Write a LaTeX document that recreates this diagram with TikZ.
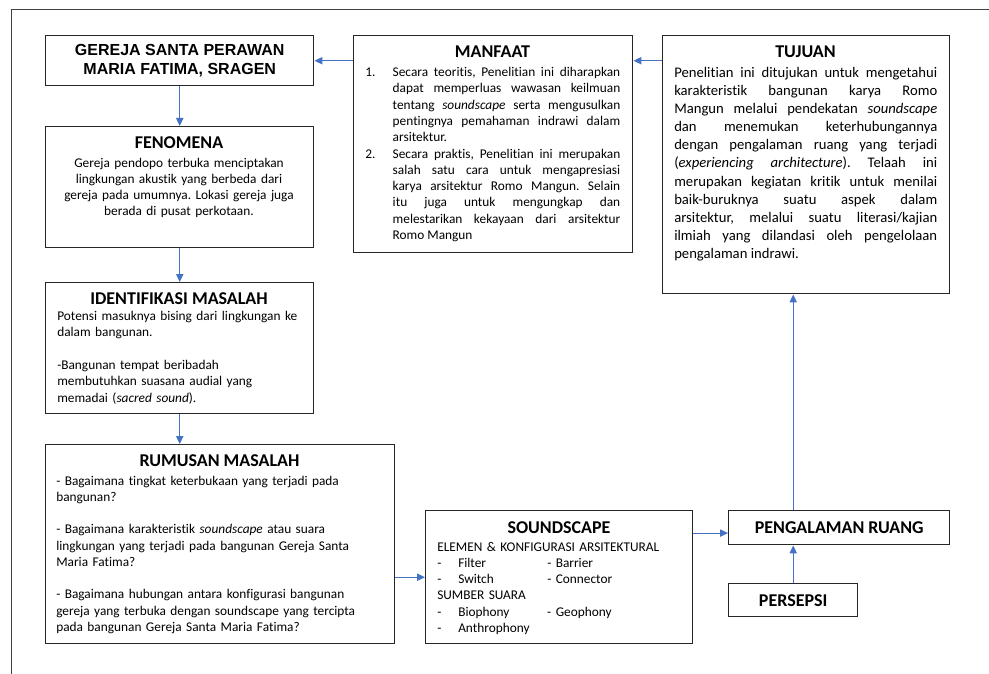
\documentclass[tikz,border=0pt]{standalone}
\usepackage{fontspec}
\setmainfont{Carlito}[Ligatures={TeX,NoCommon}]
\newfontfamily\arialfont{Liberation Sans}
\usetikzlibrary{arrows.meta}
\frenchspacing

\definecolor{arrowblue}{HTML}{4472C4}
\newcommand\headfont{\bfseries\fontsize{13.5}{15}\selectfont}
\newcommand\bodyfont{\fontsize{10}{12.2}\selectfont}

\tikzset{
	box/.style={draw=black!85, line width=1.1pt, anchor=north west, inner sep=0pt},
	head/.style={anchor=base, inner sep=0pt, font=\headfont},
	body/.style={inner sep=0pt, font=\bodyfont},
	flow/.style={draw=arrowblue, line width=0.75pt, -{Triangle[length=6pt,width=5.5pt]}},
	frame/.style={draw=black!75, line width=0.75pt}
}

\begin{document}
\begin{tikzpicture}[x=0.75pt,y=-0.75pt]
		%%%%% START %%%%%
		\useasboundingbox (0,0) rectangle (989,674);
		\draw[frame] (11,674) -- (11,10) -- (989,10);
		
		% left column
		\node[box, minimum width=201pt, minimum height=37.5pt, align=center,
			font=\arialfont\bfseries\fontsize{12}{13.75}\selectfont] (gereja) at (45,35)
			{GEREJA SANTA PERAWAN\\MARIA FATIMA, SRAGEN};
		
		\node[box, minimum width=201pt, minimum height=90.75pt] (fenomena) at (45,126) {};
		\node[head] (fenomenahead) at (179,148) {FENOMENA};
		\node[body, anchor=base, text width=200pt, align=center] (fenomenatext) at (179,167)
			{Gereja pendopo terbuka menciptakan\\lingkungan akustik yang berbeda dari\\gereja pada umumnya. Lokasi gereja juga\\berada di pusat perkotaan.};
		
		\node[box, minimum width=201pt, minimum height=98.25pt] (identifikasi) at (45,282) {};
		\node[head] (identifikasihead) at (179,304) {IDENTIFIKASI MASALAH};
		\node[body, anchor=base west, text width=190pt, align=left] (identifikasitext) at (57,320.7)
			{Potensi masuknya bising dari lingkungan ke\\dalam bangunan.\\[12.2pt]
			-Bangunan tempat beribadah\\membutuhkan suasana audial yang\\memadai (\textit{sacred sound}).};
		
		\node[box, minimum width=261.75pt, minimum height=149.25pt] (rumusan) at (45,444) {};
		\node[head] (rumusanhead) at (219.5,466) {RUMUSAN MASALAH};
		\node[body, anchor=base west, text width=250pt, align=left] (rumusantext) at (56,485)
			{- Bagaimana tingkat keterbukaan yang terjadi pada\\bangunan?\\[12.2pt]
			- Bagaimana karakteristik \textit{soundscape} atau suara\\lingkungan yang terjadi pada bangunan Gereja Santa\\Maria Fatima?\\[12.2pt]
			- Bagaimana hubungan antara konfigurasi bangunan\\gereja yang terbuka dengan soundscape yang tercipta\\pada bangunan Gereja Santa Maria Fatima?};
		
		% top middle and right
		\node[box, minimum width=209.25pt, minimum height=162.75pt] (manfaat) at (353,35) {};
		\node[head] (manfaathead) at (492.5,57.3) {MANFAAT};
		\node[body, anchor=base west, text width=191.25pt, align=justify] (manfaattext) at (365,76.7)
			{\hangindent=20.6pt\hangafter=1\makebox[20.6pt][l]{1.}Secara teoritis, Penelitian ini diharapkan\linebreak
			dapat memperluas wawasan keilmuan\linebreak
			tentang \textit{soundscape} serta mengusulkan\linebreak
			pentingnya pemahaman indrawi dalam\linebreak
			arsitektur.\par
			\hangindent=20.6pt\hangafter=1\makebox[20.6pt][l]{2.}Secara praktis, Penelitian ini merupakan\linebreak
			salah satu cara untuk mengapresiasi\linebreak
			karya arsitektur Romo Mangun. Selain\linebreak
			itu juga untuk mengungkap dan\linebreak
			melestarikan kekayaan dari arsitektur\linebreak
			Romo Mangun\par};
		
		\node[box, minimum width=215.25pt, minimum height=193.5pt] (tujuan) at (662,35) {};
		\node[head] (tujuanhead) at (805.5,57.3) {TUJUAN};
		\node[body, anchor=base west, text width=197.25pt, align=justify,
			font=\fontsize{11}{13.6}\selectfont] (tujuantext) at (674,77.3)
			{Penelitian ini ditujukan untuk mengetahui\linebreak
			karakteristik bangunan karya Romo\linebreak
			Mangun melalui pendekatan \textit{soundscape}\linebreak
			dan menemukan keterhubungannya\linebreak
			dengan pengalaman ruang yang terjadi\linebreak
			(\textit{experiencing architecture}). Telaah ini\linebreak
			merupakan kegiatan kritik untuk menilai\linebreak
			baik-buruknya suatu aspek dalam\linebreak
			arsitektur, melalui suatu literasi/kajian\linebreak
			ilmiah yang dilandasi oleh pengelolaan\linebreak
			pengalaman indrawi.\par};
		
		% bottom right
		\node[box, minimum width=200.25pt, minimum height=99.75pt] (soundscape) at (425,510) {};
		\node[head] (soundscapehead) at (559,533.3) {SOUNDSCAPE};
		\node[body, anchor=base west, text width=190pt, align=left] (soundscapetext) at (437,551)
			{ELEMEN \& KONFIGURASI ARSITEKTURAL\\
			\makebox[15.75pt][l]{-}\makebox[66.75pt][l]{Filter}- Barrier\\
			\makebox[15.75pt][l]{-}\makebox[66.75pt][l]{Switch}- Connector\\
			SUMBER SUARA\\
			\makebox[15.75pt][l]{-}\makebox[66.75pt][l]{Biophony}- Geophony\\
			\makebox[15.75pt][l]{-}Anthrophony};
		
		\node[box, minimum width=165.75pt, minimum height=25.5pt, font=\headfont] (pengalaman) at (728,510) {PENGALAMAN RUANG};
		\node[box, minimum width=96.75pt, minimum height=24.75pt, font=\headfont] (persepsi) at (728,583) {PERSEPSI};
		\coordinate (pengalamanin) at ([yshift=-4pt]pengalaman.west);
		
		% connectors
		\draw[flow] (manfaat.west |- gereja.east) -- (gereja.east);
		\draw[flow] (tujuan.west |- gereja.east) -- (manfaat.east |- gereja.east);
		\draw[flow] (gereja) -- (fenomena);
		\draw[flow] (fenomena) -- (identifikasi);
		\draw[flow] (identifikasi.south) -- (identifikasi.south |- rumusan.north);
		\draw[flow] (rumusan.east |- soundscape.west) -- (soundscape.west);
		\draw[flow] (soundscape.east |- pengalamanin) -- (pengalamanin);
		\draw[flow] (persepsi) -- (persepsi.north |- pengalaman.south);
		\draw[flow] (persepsi.north |- pengalaman.north) -- (persepsi.north |- tujuan.south);
		%%%%% END %%%%%
\end{tikzpicture}
\end{document}
